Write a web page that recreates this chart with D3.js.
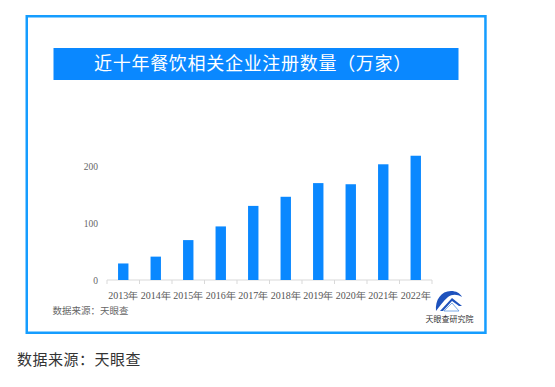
<!DOCTYPE html>
<html>
<head>
<meta charset="utf-8">
<script src="https://cdn.jsdelivr.net/npm/d3@7"></script>
<style>
  body { margin: 0; background: #fff; }
</style>
</head>
<body>
<div id="chart"></div>
<script>
// 近十年餐饮相关企业注册数量（万家）
var years = ["2013年", "2014年", "2015年", "2016年", "2017年", "2018年", "2019年", "2020年", "2021年", "2022年"];
var counts = [29, 41, 70, 94, 130, 146, 170, 168, 203, 218];
var yTicks = [0, 100, 200];

var W = 555, H = 387;
var plot = {left: 107, right: 432, top: 166, bottom: 280};

var svg = d3.select("#chart").append("svg")
  .attr("width", W)
  .attr("height", H);

// outer frame
svg.append("rect")
  .attr("x", 26.75).attr("y", 16.25)
  .attr("width", 458.7).attr("height", 316.5)
  .attr("fill", "#fff")
  .attr("stroke", "#159dff")
  .attr("stroke-width", 2.5);

// title banner
svg.append("rect")
  .attr("x", 53.5).attr("y", 48)
  .attr("width", 405).attr("height", 32)
  .attr("fill", "#0a88ff");

svg.append("text")
  .attr("x", 253).attr("y", 70)
  .attr("text-anchor", "middle")
  .attr("fill", "#fff")
  .style("font-family", "'Noto Sans CJK SC', sans-serif")
  .style("font-size", "18px")
  .style("letter-spacing", "0.7px")
  .text("近十年餐饮相关企业注册数量（万家）");

var x = d3.scaleBand()
  .domain(years)
  .range([plot.left, plot.right])
  .paddingInner(0.68)
  .paddingOuter(0.34);

var y = d3.scaleLinear()
  .domain([0, 200])
  .range([plot.bottom, plot.top]);

var g = svg.append("g");

// x axis baseline with boundary ticks
g.append("line")
  .attr("x1", plot.left).attr("x2", plot.right)
  .attr("y1", y(0)).attr("y2", y(0))
  .attr("stroke", "#d9d9d9");

var bandW = (plot.right - plot.left) / years.length;
g.selectAll(".xtick")
  .data(d3.range(years.length + 1))
  .enter().append("line")
    .attr("x1", i => plot.left + i * bandW)
    .attr("x2", i => plot.left + i * bandW)
    .attr("y1", y(0)).attr("y2", y(0) + 4)
    .attr("stroke", "#d9d9d9");

g.selectAll(".xlab")
  .data(years)
  .enter().append("text")
    .attr("x", d => x(d) + x.bandwidth() / 2)
    .attr("y", 298.5)
    .attr("text-anchor", "middle")
    .attr("fill", "#555")
    .style("font-family", "'Liberation Serif', serif")
    .style("font-size", "10px")
    .text(d => d);

g.selectAll(".ylab")
  .data(yTicks)
  .enter().append("text")
    .attr("x", 98)
    .attr("y", d => y(d) + 3.5)
    .attr("text-anchor", "end")
    .attr("fill", "#666")
    .style("font-family", "'Liberation Serif', serif")
    .style("font-size", "9.5px")
    .text(d => d);

g.selectAll(".bar")
  .data(counts)
  .enter().append("rect")
    .attr("class", "bar")
    .attr("x", (d, i) => x(years[i]))
    .attr("width", x.bandwidth())
    .attr("y", d => y(d))
    .attr("height", d => y(0) - y(d))
    .attr("fill", "#0a88ff");

// source inside frame
svg.append("text")
  .attr("x", 52.5).attr("y", 313.5)
  .attr("fill", "#666")
  .style("font-family", "'Noto Sans CJK SC', sans-serif")
  .style("font-size", "9.5px")
  .text("数据来源：天眼查");

// logo
var logo = svg.append("g");
logo.append("path")
  .attr("d", "M436,311 C435,300 441,291 451,291 C456,291 460,293 462,297 C457,294 452,294 448,297 C443,301 440,306 436,311 Z")
  .attr("fill", "#1e52bd");
logo.append("path")
  .attr("d", "M440,311 L452,298 L462,306 L459,306 L452,301 L443,311 Z")
  .attr("fill", "#1e52bd");
logo.append("path")
  .attr("d", "M444,311 L452,303 L459,311 Z")
  .attr("fill", "none")
  .attr("stroke", "#5a96e0")
  .attr("stroke-width", 0.8);
svg.append("text")
  .attr("x", 449.5).attr("y", 322)
  .attr("text-anchor", "middle")
  .attr("fill", "#333")
  .style("font-family", "'Noto Sans CJK SC', sans-serif")
  .style("font-size", "8px")
  .text("天眼查研究院");

// caption below frame
svg.append("text")
  .attr("x", 17).attr("y", 364.5)
  .attr("fill", "#333")
  .style("font-family", "'Noto Sans CJK SC', sans-serif")
  .style("font-size", "15px")
  .style("letter-spacing", "0.5px")
  .text("数据来源：天眼查");
</script>
</body>
</html>
